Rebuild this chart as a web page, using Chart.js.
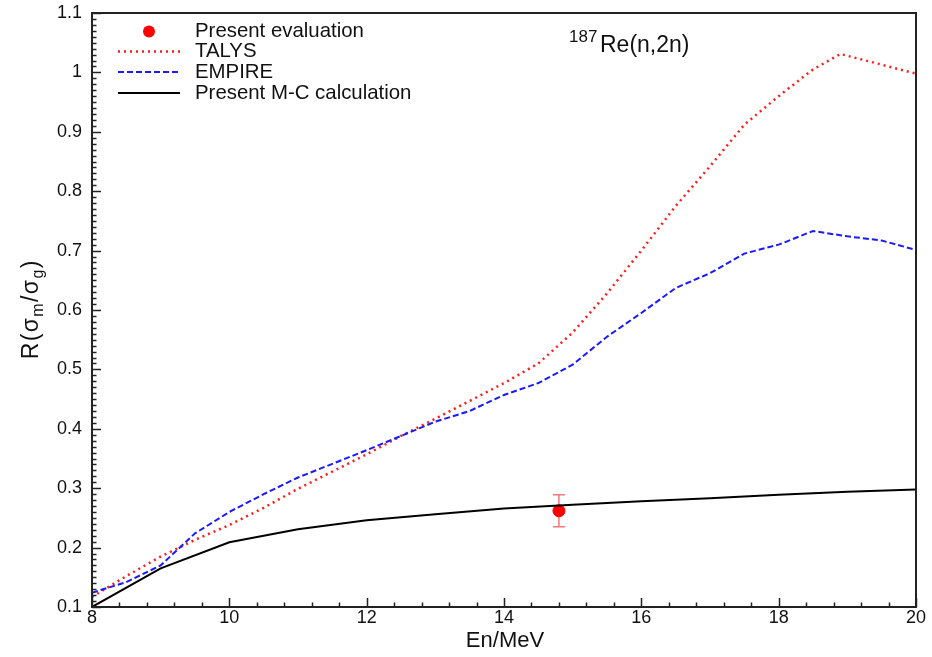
<!DOCTYPE html>
<html>
<head>
<meta charset="utf-8">
<script src="https://cdn.jsdelivr.net/npm/chart.js@4.4.1/dist/chart.umd.min.js"></script>
<style>
  html, body { margin: 0; padding: 0; background: #fff; }
  #wrap { width: 932px; height: 657px; }
</style>
</head>
<body>
<div id="wrap"><canvas id="chart" width="932" height="657"></canvas></div>
<script>
// TALYS ratio
const talysE = [8, 8.5, 9, 9.5, 10, 10.5, 11, 11.5, 12, 12.5, 13, 13.5, 14, 14.5, 15, 15.5, 16, 16.5, 17, 17.5, 18, 18.5, 18.9, 19.5, 20];
const talysR = [0.117, 0.152, 0.185, 0.213, 0.238, 0.267, 0.299, 0.328, 0.357, 0.388, 0.417, 0.447, 0.477, 0.510, 0.562, 0.628, 0.700, 0.775, 0.842, 0.912, 0.960, 1.005, 1.031, 1.013, 0.998];

// EMPIRE ratio
const empireE = [8, 8.5, 9, 9.5, 10, 10.5, 11, 11.5, 12, 12.5, 13, 13.5, 14, 14.5, 15, 15.5, 16, 16.5, 17, 17.5, 18, 18.5, 19, 19.5, 20];
const empireR = [0.124, 0.142, 0.170, 0.224, 0.260, 0.290, 0.318, 0.341, 0.364, 0.388, 0.412, 0.430, 0.457, 0.477, 0.508, 0.555, 0.595, 0.637, 0.662, 0.695, 0.710, 0.733, 0.724, 0.717, 0.701];

// present M-C calculation
const mcE = [8, 9, 10, 11, 12, 13, 14, 15, 16, 17, 18, 19, 20];
const mcR = [0.100, 0.165, 0.209, 0.231, 0.246, 0.256, 0.266, 0.272, 0.278, 0.283, 0.289, 0.294, 0.298];

// present evaluation
const evalE = [14.8];
const evalR = [0.262];
const evalErr = [0.027];

const xMin = 8, xMax = 20, xStep = 2, xMinorDiv = 5;
const yMin = 0.1, yMax = 1.1, yStep = 0.1, yMinorDiv = 10;

const FONT = '"Liberation Sans", Arial, Helvetica, sans-serif';

function toPoints(xs, ys) {
    return xs.map((x, i) => ({ x: x, y: ys[i] }));
}

function noEdgePadding(scale) {
    scale.paddingTop = 0;
    scale.paddingBottom = 0;
    scale.paddingLeft = 0;
    scale.paddingRight = 0;
}

const frameAndText = {
    id: 'frameAndText',
    beforeDatasetsDraw(chart) {
        // error bars for the evaluation
        const ctx = chart.ctx;
        const xs = chart.scales.x, ys = chart.scales.y;
        ctx.save();
        ctx.strokeStyle = '#f07a7a';
        ctx.lineWidth = 1.5;
        evalE.forEach((e, i) => {
            const px = xs.getPixelForValue(e);
            const top = ys.getPixelForValue(evalR[i] + evalErr[i]);
            const bot = ys.getPixelForValue(evalR[i] - evalErr[i]);
            ctx.beginPath();
            ctx.moveTo(px, top); ctx.lineTo(px, bot);
            ctx.moveTo(px - 6, top); ctx.lineTo(px + 6, top);
            ctx.moveTo(px - 6, bot); ctx.lineTo(px + 6, bot);
            ctx.stroke();
        });
        ctx.restore();
    },
    afterDraw(chart) {
        const ctx = chart.ctx;
        const a = chart.chartArea;
        const xs = chart.scales.x, ys = chart.scales.y;
        ctx.save();

        // frame
        ctx.strokeStyle = '#222';
        ctx.lineWidth = 2;
        ctx.strokeRect(a.left, a.top, a.right - a.left, a.bottom - a.top);

        // inward ticks
        ctx.lineWidth = 1.5;
        ctx.beginPath();
        const nx = (xMax - xMin) / xStep * xMinorDiv;
        for (let i = 0; i <= nx; i++) {
            const v = xMin + i * xStep / xMinorDiv;
            const px = Math.round(xs.getPixelForValue(v)) + 0.5;
            const len = i % xMinorDiv === 0 ? 9 : 4.5;
            ctx.moveTo(px, a.bottom);
            ctx.lineTo(px, a.bottom - len);
        }
        const ny = Math.round((yMax - yMin) / yStep * yMinorDiv);
        for (let i = 0; i <= ny; i++) {
            const v = yMin + i * yStep / yMinorDiv;
            const py = Math.round(ys.getPixelForValue(v)) + 0.5;
            const len = i % yMinorDiv === 0 ? 9 : 4.5;
            ctx.moveTo(a.left, py);
            ctx.lineTo(a.left + len, py);
        }
        ctx.stroke();

        ctx.fillStyle = '#111';

        // x title
        ctx.font = '22px ' + FONT;
        ctx.textAlign = 'center';
        ctx.textBaseline = 'alphabetic';
        ctx.fillText('En/MeV', 505, 647);

        // y title with subscripts, rotated
        ctx.save();
        ctx.translate(38, 310);
        ctx.rotate(-Math.PI / 2);
        const parts = [
            { t: 'R', sub: false }, { t: '(', sub: false }, { t: 'σ', sub: false },
            { t: 'm', sub: true }, { t: '/', sub: false }, { t: 'σ', sub: false },
            { t: 'g', sub: true }, { t: ')', sub: false }
        ];
        const gap = 1.4;
        let total = 0;
        parts.forEach(p => {
            ctx.font = (p.sub ? '16px ' : '23px ') + FONT;
            p.w = ctx.measureText(p.t).width;
            total += p.w;
        });
        total += gap * (parts.length - 1);
        let cx = -total / 2;
        ctx.textAlign = 'left';
        parts.forEach(p => {
            ctx.font = (p.sub ? '16px ' : '23px ') + FONT;
            ctx.fillText(p.t, cx, p.sub ? 5 : 0);
            cx += p.w + gap;
        });
        ctx.restore();

        // reaction label
        ctx.textAlign = 'left';
        ctx.font = '17px ' + FONT;
        ctx.fillText('187', 569, 42);
        ctx.font = '23px ' + FONT;
        ctx.fillText('Re(n,2n)', 600, 52);

        // legend
        const lx0 = 118, lx1 = 180, tx = 195;
        const rows = [31.5, 51.5, 72, 93];
        ctx.font = '20.4px ' + FONT;
        ctx.textBaseline = 'middle';
        ctx.fillText('Present evaluation', tx, rows[0]);
        ctx.fillText('TALYS', tx, rows[1]);
        ctx.fillText('EMPIRE', tx, rows[2]);
        ctx.fillText('Present M-C calculation', tx, rows[3]);

        ctx.fillStyle = '#ff0000';
        ctx.beginPath();
        ctx.arc((lx0 + lx1) / 2, rows[0], 6, 0, Math.PI * 2);
        ctx.fill();

        ctx.lineWidth = 2.5;
        ctx.strokeStyle = '#ff1a1a';
        ctx.setLineDash([2, 4]);
        ctx.beginPath(); ctx.moveTo(lx0, rows[1]); ctx.lineTo(lx1, rows[1]); ctx.stroke();

        ctx.lineWidth = 2;
        ctx.strokeStyle = '#1a1aff';
        ctx.setLineDash([6, 3]);
        ctx.beginPath(); ctx.moveTo(lx0, rows[2]); ctx.lineTo(lx1, rows[2]); ctx.stroke();

        ctx.strokeStyle = '#000';
        ctx.setLineDash([]);
        ctx.beginPath(); ctx.moveTo(lx0, rows[3]); ctx.lineTo(lx1, rows[3]); ctx.stroke();

        ctx.restore();
    }
};

const config = {
    type: 'scatter',
    data: {
        datasets: [
            {
                label: 'Present M-C calculation',
                data: toPoints(mcE, mcR),
                showLine: true,
                borderColor: '#000',
                borderWidth: 2,
                pointRadius: 0,
                tension: 0
            },
            {
                label: 'EMPIRE',
                data: toPoints(empireE, empireR),
                showLine: true,
                borderColor: '#1a1aff',
                borderWidth: 2,
                borderDash: [6, 3],
                pointRadius: 0,
                tension: 0
            },
            {
                label: 'TALYS',
                data: toPoints(talysE, talysR),
                showLine: true,
                borderColor: '#ff1a1a',
                borderWidth: 2.5,
                borderDash: [2, 4],
                pointRadius: 0,
                tension: 0
            },
            {
                label: 'Present evaluation',
                data: toPoints(evalE, evalR),
                showLine: false,
                backgroundColor: '#ff0000',
                borderColor: '#ff0000',
                pointRadius: 6,
                pointHoverRadius: 6
            }
        ]
    },
    options: {
        responsive: false,
        animation: false,
        devicePixelRatio: 1,
        layout: { padding: { left: 0, top: 13, right: 16, bottom: 0 } },
        plugins: {
            legend: { display: false },
            tooltip: { enabled: false },
            title: { display: false }
        },
        scales: {
            x: {
                type: 'linear',
                min: xMin,
                max: xMax,
                grid: { display: false, drawTicks: false },
                border: { display: false },
                ticks: {
                    stepSize: xStep,
                    padding: 0,
                    color: '#111',
                    font: { family: FONT, size: 18 },
                    maxRotation: 0
                },
                afterFit(scale) { scale.height = 50; noEdgePadding(scale); }
            },
            y: {
                type: 'linear',
                min: yMin,
                max: yMax,
                grid: { display: false, drawTicks: false },
                border: { display: false },
                ticks: {
                    stepSize: yStep,
                    padding: 10,
                    color: '#111',
                    font: { family: FONT, size: 18 },
                    callback: v => (Math.round(v * 10) / 10).toString()
                },
                afterFit(scale) { scale.width = 92; noEdgePadding(scale); }
            }
        }
    },
    plugins: [frameAndText]
};

new Chart(document.getElementById('chart'), config);
</script>
</body>
</html>
